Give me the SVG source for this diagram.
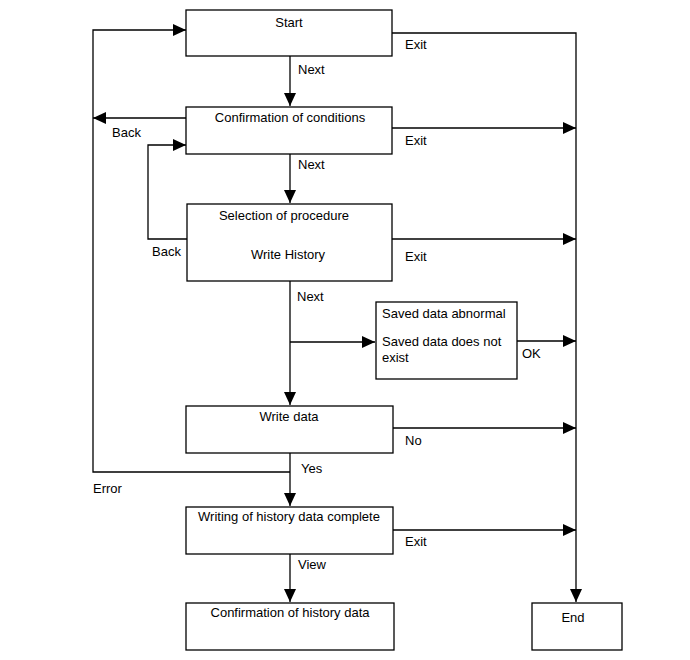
<svg xmlns="http://www.w3.org/2000/svg" width="690" height="660" viewBox="0 0 690 660">
<style>
.box{fill:#fff;stroke:#000;stroke-width:1.3}
.t{font-family:"Liberation Sans",Arial,sans-serif;font-size:13px;fill:#000}
.c{text-anchor:middle}
.ln{fill:none;stroke:#000;stroke-width:1.3}
.a{marker-end:url(#ah)}
</style>
<defs>
<marker id="ah" markerUnits="userSpaceOnUse" markerWidth="14" markerHeight="14" viewBox="0 0 14 14" refX="13" refY="7" orient="auto">
<path d="M0,1 L13,7 L0,13 Z" fill="#000"/>
</marker>
</defs>
<g id="connectors">
<path class="ln a" d="M290,56 V106"/>
<path class="ln a" d="M290,154 V203"/>
<path class="ln a" d="M290,281 V405"/>
<path class="ln a" d="M290,342 H375"/>
<path class="ln a" d="M517,341 H576"/>
<path class="ln a" d="M290,453 V506"/>
<path class="ln a" d="M290,554 V602"/>
<path class="ln a" d="M392,33 H576 V602"/>
<path class="ln a" d="M392,128 H576"/>
<path class="ln a" d="M392,239 H576"/>
<path class="ln a" d="M393,428 H576"/>
<path class="ln a" d="M393,530 H576"/>
<path class="ln a" d="M186,118 H93"/>
<path class="ln a" d="M187,239 H148 V145 H186"/>
<path class="ln a" d="M290,472 H93 V30 H186"/>
<text class="t" x="298" y="74">Next</text>
<text class="t" x="298" y="169">Next</text>
<text class="t" x="297" y="301">Next</text>
<text class="t" x="112" y="137">Back</text>
<text class="t" x="152" y="256">Back</text>
<text class="t" x="405" y="49">Exit</text>
<text class="t" x="405" y="145">Exit</text>
<text class="t" x="405" y="261">Exit</text>
<text class="t" x="405" y="546">Exit</text>
<text class="t" x="405" y="445">No</text>
<text class="t" x="522" y="358">OK</text>
<text class="t" x="301" y="473">Yes</text>
<text class="t" x="93" y="493">Error</text>
<text class="t" x="298" y="569">View</text>
</g>
<g id="start"><rect class="box" x="186" y="10" width="206" height="46"/><text class="t c" x="289" y="27">Start</text></g>
<g id="confirm"><rect class="box" x="186" y="107" width="206" height="47"/><text class="t c" x="290" y="122">Confirmation of conditions</text></g>
<g id="select"><rect class="box" x="187" y="204" width="205" height="77"/><text class="t c" x="284" y="220">Selection of procedure</text><text class="t c" x="288" y="259">Write History</text></g>
<g id="saved"><rect class="box" x="376" y="302" width="141" height="77"/><text class="t" x="382" y="318">Saved data abnormal</text><text class="t" x="382" y="346">Saved data does not</text><text class="t" x="382" y="362">exist</text></g>
<g id="write"><rect class="box" x="186" y="406" width="207" height="47"/><text class="t c" x="289" y="421">Write data</text></g>
<g id="complete"><rect class="box" x="186" y="507" width="207" height="47"/><text class="t c" x="289" y="521">Writing of history data complete</text></g>
<g id="confhist"><rect class="box" x="186" y="603" width="208" height="47"/><text class="t c" x="290" y="617">Confirmation of history data</text></g>
<g id="end"><rect class="box" x="532" y="603" width="90" height="47"/><text class="t c" x="573" y="622">End</text></g>
</svg>
